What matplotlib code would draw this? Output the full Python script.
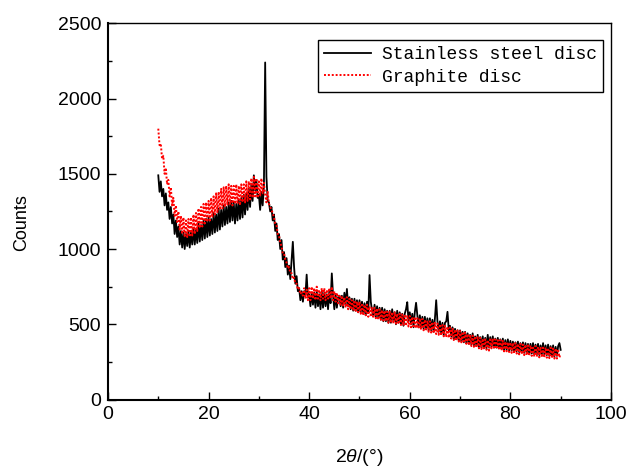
import numpy as np
import matplotlib
matplotlib.use('Agg')
import matplotlib.pyplot as plt
from matplotlib.ticker import MultipleLocator

plt.rcParams['font.family'] = ['Liberation Sans', 'DejaVu Sans']
plt.rcParams['mathtext.fontset'] = 'custom'
plt.rcParams['mathtext.it'] = 'Liberation Sans:italic'
plt.rcParams['mathtext.rm'] = 'Liberation Sans'

# 2theta grid, 10..90 deg in 0.25 deg steps
two_theta = np.arange(10, 90.001, 0.25)

steel = [
    1490, 1380, 1450, 1350,  # 10
    1400, 1290, 1370, 1260,
    1310, 1200, 1280, 1170,
    1230, 1100, 1190, 1080,
    1150, 1030, 1120, 1010,
    1110, 1000, 1100, 1020,  # 15
    1120, 1010, 1110, 1030,
    1140, 1030, 1130, 1040,
    1170, 1050, 1160, 1060,
    1190, 1070, 1200, 1080,
    1210, 1090, 1200, 1100,  # 20
    1240, 1110, 1230, 1120,
    1270, 1130, 1260, 1150,
    1290, 1160, 1280, 1170,
    1310, 1180, 1320, 1190,
    1310, 1170, 1300, 1190,  # 25
    1330, 1200, 1340, 1210,
    1360, 1230, 1370, 1260,
    1400, 1280, 1430, 1320,
    1490, 1390, 1460, 1340,
    1360, 1260, 1380, 1290,  # 30
    1420, 2240, 1480, 1320,
    1310, 1250, 1280, 1190,
    1230, 1120, 1170, 1060,
    1100, 1000, 1060, 930,
    980, 880, 940, 830,      # 35
    890, 800, 920, 1048,
    880, 770, 820, 720,
    740, 660, 720, 650,
    720, 690, 830, 680,
    700, 620, 710, 630,      # 40
    710, 610, 720, 620,
    700, 600, 720, 610,
    710, 620, 700, 600,
    720, 640, 838, 690,
    600, 700, 610, 680,      # 45
    690, 620, 690, 610,
    710, 630, 735, 620,
    680, 600, 670, 590,
    670, 590, 660, 580,
    660, 580, 650, 570,      # 50
    640, 560, 650, 580,
    827, 650, 590, 560,
    630, 550, 620, 540,
    610, 530, 610, 520,
    600, 520, 590, 510,      # 55
    590, 510, 600, 520,
    580, 500, 590, 510,
    580, 500, 570, 490,
    570, 600, 647, 520,
    580, 500, 570, 480,      # 60
    580, 643, 560, 480,
    560, 480, 550, 470,
    550, 470, 540, 460,
    540, 460, 530, 450,
    540, 660, 520, 450,      # 65
    520, 440, 510, 430,
    510, 520, 583, 460,
    490, 420, 480, 400,
    470, 400, 460, 390,
    460, 385, 450, 380,      # 70
    450, 375, 440, 370,
    430, 365, 440, 360,
    420, 355, 430, 350,
    415, 345, 420, 340,
    410, 340, 430, 345,      # 75
    415, 350, 420, 345,
    405, 345, 410, 340,
    400, 335, 405, 330,
    395, 330, 400, 325,
    390, 325, 385, 320,      # 80
    380, 320, 385, 315,
    375, 315, 380, 310,
    375, 310, 370, 305,
    370, 305, 375, 300,
    365, 300, 370, 295,      # 85
    360, 300, 375, 300,
    360, 295, 365, 290,
    355, 290, 360, 285,
    350, 290, 355, 375,
    330,                     # 90
]

graphite = [
    1800, 1690, 1700, 1600,  # 10
    1620, 1500, 1540, 1430,
    1460, 1350, 1410, 1290,
    1340, 1220, 1290, 1180,
    1250, 1130, 1220, 1100,
    1210, 1080, 1190, 1080,  # 15
    1200, 1080, 1210, 1090,
    1230, 1100, 1240, 1120,
    1270, 1140, 1280, 1150,
    1300, 1170, 1310, 1180,
    1320, 1190, 1340, 1210,  # 20
    1350, 1230, 1370, 1240,
    1380, 1260, 1400, 1270,
    1410, 1280, 1420, 1290,
    1430, 1300, 1420, 1290,
    1420, 1300, 1430, 1300,  # 25
    1420, 1290, 1430, 1310,
    1430, 1310, 1450, 1320,
    1450, 1330, 1470, 1340,
    1480, 1350, 1470, 1340,
    1450, 1350, 1470, 1370,  # 30
    1440, 1360, 1310, 1380,
    1300, 1280, 1260, 1240,
    1210, 1170, 1160, 1100,
    1090, 1040, 1020, 970,
    970, 930, 910, 870,      # 35
    880, 840, 840, 800,
    810, 770, 770, 730,
    740, 700, 710, 690,
    740, 670, 730, 660,
    740, 660, 750, 670,      # 40
    740, 660, 750, 670,
    730, 660, 740, 670,
    740, 660, 730, 670,
    740, 670, 750, 660,
    720, 650, 710, 640,      # 45
    700, 630, 690, 620,
    680, 610, 680, 600,
    670, 600, 660, 590,
    660, 580, 650, 580,
    650, 570, 640, 560,      # 50
    630, 560, 630, 550,
    620, 550, 610, 540,
    610, 540, 605, 530,
    600, 530, 595, 525,
    590, 520, 585, 510,      # 55
    585, 510, 580, 505,
    580, 505, 570, 500,
    570, 495, 565, 490,
    565, 490, 560, 485,
    555, 480, 550, 475,      # 60
    550, 475, 540, 470,
    540, 465, 535, 460,
    530, 455, 525, 450,
    520, 445, 515, 440,
    510, 435, 505, 430,      # 65
    500, 425, 495, 420,
    490, 415, 485, 410,
    480, 405, 475, 395,
    465, 390, 460, 385,
    455, 380, 450, 375,      # 70
    445, 370, 435, 360,
    430, 355, 425, 350,
    420, 345, 415, 340,
    410, 335, 405, 330,
    400, 330, 395, 325,      # 75
    410, 340, 405, 335,
    400, 335, 395, 330,
    395, 325, 390, 320,
    385, 320, 380, 315,
    380, 310, 375, 305,      # 80
    375, 305, 370, 300,
    370, 300, 365, 295,
    365, 295, 360, 290,
    360, 290, 355, 285,
    355, 285, 350, 280,      # 85
    350, 280, 345, 278,
    347, 278, 343, 275,
    345, 275, 340, 272,
    340, 272, 335, 280,
    305,                     # 90
]

fig = plt.figure(figsize=(6.3, 4.67), dpi=100)
ax = fig.add_axes([0.1714, 0.1445, 0.7984, 0.8055])

ax.plot(two_theta, steel, color='black', lw=1.3, label='Stainless steel disc')
ax.plot(two_theta, graphite, color='red', lw=1.4, ls=(0, (1, 1)),
        label='Graphite disc')

ax.set_xlim(0, 100)
ax.set_ylim(0, 2500)
ax.xaxis.set_major_locator(MultipleLocator(20))
ax.xaxis.set_minor_locator(MultipleLocator(10))
ax.yaxis.set_major_locator(MultipleLocator(500))
ax.yaxis.set_minor_locator(MultipleLocator(250))
ax.tick_params(which='both', direction='in', top=False, right=False,
               labelsize=14, width=1.0)
ax.tick_params(which='major', length=6, pad=5)
ax.tick_params(which='minor', length=3)

for side in ['left', 'bottom']:
    ax.spines[side].set_linewidth(1.5)
for side in ['top', 'right']:
    ax.spines[side].set_linewidth(1.0)

ax.set_xlabel(r'2$\it{\theta}$/(°)', fontsize=14, labelpad=17)
ax.set_ylabel('Counts', fontsize=13)
ax.yaxis.set_label_coords(-0.155, 0.47)

leg = ax.legend(loc='upper right', bbox_to_anchor=(0.984, 0.956),
                borderaxespad=0, fancybox=False, edgecolor='black',
                framealpha=1, handlelength=2.6, handletextpad=0.6,
                labelspacing=0.3, borderpad=0.35,
                prop={'family': 'Liberation Mono', 'size': 13})
leg.get_frame().set_linewidth(1.0)

fig.savefig('out.png', dpi=100)
